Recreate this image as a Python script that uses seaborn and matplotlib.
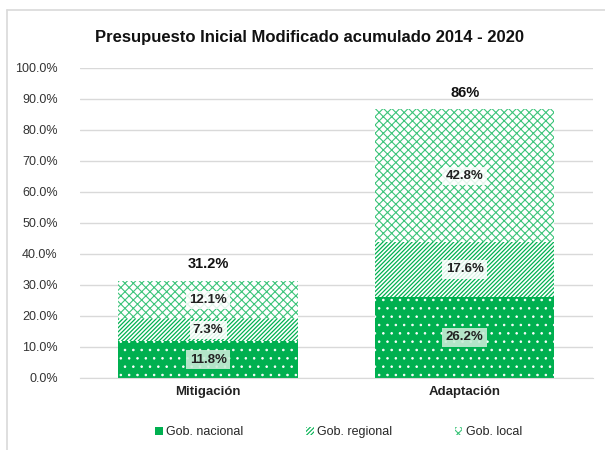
import numpy as np
import pandas as pd
import seaborn as sns
import matplotlib.pyplot as plt
from matplotlib.patches import Patch
from matplotlib.lines import Line2D

categories = ["Mitigación", "Adaptación"]
nacional = [11.8, 26.2]
regional = [7.3, 17.6]
local = [12.1, 42.8]
totals = ["31.2%", "86%"]
series_names = ["Gob. nacional", "Gob. regional", "Gob. local"]
yticks = [0, 10, 20, 30, 40, 50, 60, 70, 80, 90, 100]

sns.set_style("white")
plt.rcParams["font.family"] = ["Liberation Sans Narrow", "Liberation Sans", "DejaVu Sans"]

green = "#00b050"
light_green = "#3cc47a"

fig = plt.figure(figsize=(6.05, 4.5), dpi=100)
ax = fig.add_axes([0.132, 0.16, 0.848, 0.689])

df = pd.DataFrame({"cat": categories, "nac": nacional, "reg": regional, "loc": local})
b1 = np.array(nacional)
b2 = b1 + np.array(regional)

# hatch style per series: face, hatch colour, hatch, hatch linewidth
styles = [(green, "white", "..", 0.6),
          ("white", green, "////////", 0.9),
          ("white", light_green, "xxxx", 0.8)]

plt.rcParams["hatch.linewidth"] = styles[0][3]
sns.barplot(data=df, x="cat", y="nac", color=green, width=0.70, ax=ax,
            saturation=1, linewidth=0)
plt.rcParams["hatch.linewidth"] = styles[1][3]
sns.barplot(data=df, x="cat", y="reg", bottom=b1, color="white", width=0.70,
            ax=ax, saturation=1, linewidth=0)
plt.rcParams["hatch.linewidth"] = styles[2][3]
sns.barplot(data=df, x="cat", y="loc", bottom=b2, color="white", width=0.70,
            ax=ax, saturation=1, linewidth=0)

for i, p in enumerate(ax.patches):
    fc, hc, h, hlw = styles[i // 2]
    p.set_facecolor(fc)
    p.set_edgecolor(hc)
    p.set_hatch(h)
    p.set_linewidth(0)
    if hasattr(p, "set_hatchcolor"):
        p.set_hatchcolor(hc)
    if hasattr(p, "set_hatch_linewidth"):
        p.set_hatch_linewidth(hlw)
    elif hasattr(p, "_hatch_linewidth"):
        p._hatch_linewidth = hlw

# segment labels
lab = dict(ha="center", va="center", fontsize=9.5, fontweight="bold", color="#222222")
for i in range(2):
    ax.text(i, nacional[i] / 2, f"{nacional[i]}%", **lab,
            bbox=dict(boxstyle="square,pad=0.25", fc="#c8ecd6", ec="none", alpha=0.9))
    ax.text(i, b1[i] + regional[i] / 2, f"{regional[i]}%", **lab,
            bbox=dict(boxstyle="square,pad=0.25", fc="white", ec="none", alpha=0.85))
    ax.text(i, b2[i] + local[i] / 2, f"{local[i]}%", **lab,
            bbox=dict(boxstyle="square,pad=0.25", fc="white", ec="none", alpha=0.85))
    ax.text(i, b2[i] + local[i] + 3.2, totals[i], ha="center", va="bottom",
            fontsize=10.5, fontweight="bold", color="#111111")

ax.set_ylim(0, 100)
ax.set_yticks(yticks)
ax.set_yticklabels([f"{v:.1f}%" for v in yticks], fontsize=9, color="#333333")
ax.yaxis.grid(True, color="#d9d9d9", linewidth=1)
ax.set_axisbelow(True)
ax.tick_params(axis="y", length=0, pad=16)
ax.tick_params(axis="x", length=0, pad=6)
ax.set_xticks([0, 1])
ax.set_xticklabels(categories, fontsize=9.5, fontweight="bold", color="#222222")
ax.set_xlabel("")
ax.set_ylabel("")
sns.despine(ax=ax, left=True)
ax.spines["bottom"].set_color("#d9d9d9")
ax.set_xlim(-0.5, 1.5)

fig.text(0.512, 0.917, "Presupuesto Inicial Modificado acumulado 2014 - 2020",
         ha="center", va="center", fontsize=12, fontweight="bold", color="#111111")

handles = [
    Patch(facecolor=green, edgecolor="none", label=series_names[0]),
    Patch(facecolor="white", edgecolor=green, hatch="////////", linewidth=0, label=series_names[1]),
    Patch(facecolor="white", edgecolor=light_green, hatch="xxxx", linewidth=0, label=series_names[2]),
]
fig.legend(handles=handles, loc="center", bbox_to_anchor=(0.56, 0.04), ncol=3,
           frameon=False, fontsize=9, handlelength=0.6, handleheight=0.6,
           handletextpad=0.3, columnspacing=5.0)

# chart frame
fig.add_artist(Line2D([7 / 605, 1], [1 - 10 / 450, 1 - 10 / 450], color="#d9d9d9", lw=1.2))
fig.add_artist(Line2D([7 / 605, 7 / 605], [0, 1 - 10 / 450], color="#d9d9d9", lw=1.2))

fig.savefig("out.png", dpi=100)
